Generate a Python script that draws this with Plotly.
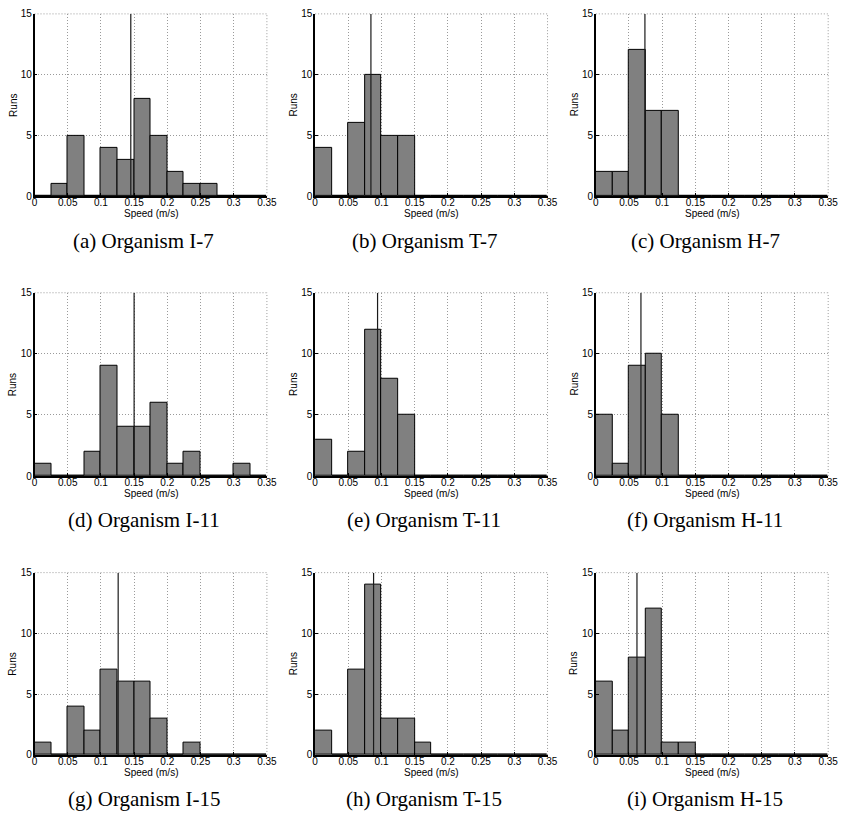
import plotly.graph_objects as go

# Histogram bins (m/s): 14 bins of width 0.025 from 0 to 0.35
bin_width = 0.025
bin_lefts = [0.0, 0.025, 0.05, 0.075, 0.1, 0.125, 0.15, 0.175,
             0.2, 0.225, 0.25, 0.275, 0.3, 0.325]

# Run counts per speed bin for each organism
counts_I7 = [0, 1, 5, 0, 4, 3, 8, 5, 2, 1, 1, 0, 0, 0]
counts_T7 = [4, 0, 6, 10, 5, 5, 0, 0, 0, 0, 0, 0, 0, 0]
counts_H7 = [2, 2, 12, 7, 7, 0, 0, 0, 0, 0, 0, 0, 0, 0]
counts_I11 = [1, 0, 0, 2, 9, 4, 4, 6, 1, 2, 0, 0, 1, 0]
counts_T11 = [3, 0, 2, 12, 8, 5, 0, 0, 0, 0, 0, 0, 0, 0]
counts_H11 = [5, 1, 9, 10, 5, 0, 0, 0, 0, 0, 0, 0, 0, 0]
counts_I15 = [1, 0, 4, 2, 7, 6, 6, 3, 0, 1, 0, 0, 0, 0]
counts_T15 = [2, 0, 7, 14, 3, 3, 1, 0, 0, 0, 0, 0, 0, 0]
counts_H15 = [6, 2, 8, 12, 1, 1, 0, 0, 0, 0, 0, 0, 0, 0]

# Mean speed per organism (vertical marker)
mean_I7, mean_T7, mean_H7 = 0.145, 0.084, 0.074
mean_I11, mean_T11, mean_H11 = 0.150, 0.094, 0.068
mean_I15, mean_T15, mean_H15 = 0.126, 0.088, 0.062

captions = ["(a) Organism I-7", "(b) Organism T-7", "(c) Organism H-7",
            "(d) Organism I-11", "(e) Organism T-11", "(f) Organism H-11",
            "(g) Organism I-15", "(h) Organism T-15", "(i) Organism H-15"]

x_tickvals = [0, 0.05, 0.1, 0.15, 0.2, 0.25, 0.3, 0.35]
x_ticktext = ["0", "0.05", "0.1", "0.15", "0.2", "0.25", "0.3", "0.35"]
y_tickvals = [0, 5, 10, 15]

panels = [
    (counts_I7, mean_I7), (counts_T7, mean_T7), (counts_H7, mean_H7),
    (counts_I11, mean_I11), (counts_T11, mean_T11), (counts_H11, mean_H11),
    (counts_I15, mean_I15), (counts_T15, mean_T15), (counts_H15, mean_H15),
]

W, H = 850, 824
col_px = [(32, 268), (317, 553), (602, 838)]
row_px = [(8, 193), (291, 477), (575, 760)]

bin_centers = [b + bin_width / 2 for b in bin_lefts]

sans = "Liberation Sans, Arial, sans-serif"
serif = "Liberation Serif, Times New Roman, serif"
grid_color = "#9a9a9a"
grid_dash = "1px,2px"
grid_style = dict(showgrid=True, gridcolor=grid_color, griddash=grid_dash, gridwidth=1)

fig = go.Figure()
annotations = []
shapes = []
layout_axes = {}

for i, (counts, mean_val) in enumerate(panels):
    r, c = divmod(i, 3)
    n = i + 1
    xname = "x" if n == 1 else f"x{n}"
    yname = "y" if n == 1 else f"y{n}"
    xkey = "xaxis" if n == 1 else f"xaxis{n}"
    ykey = "yaxis" if n == 1 else f"yaxis{n}"
    x0, x1 = col_px[c]
    top, bottom = row_px[r]

    fig.add_trace(go.Bar(
        x=bin_centers, y=counts, width=bin_width,
        marker=dict(color="#808080", line=dict(color="black", width=1)),
        xaxis=xname, yaxis=yname, showlegend=False,
    ))
    fig.add_trace(go.Scatter(
        x=[mean_val, mean_val], y=[0, 15], mode="lines",
        line=dict(color="#1a1a1a", width=1.2),
        xaxis=xname, yaxis=yname, showlegend=False,
    ))

    layout_axes[xkey] = dict(
        domain=[x0 / W, x1 / W], anchor=yname, range=[0, 0.35],
        tickvals=x_tickvals, ticktext=x_ticktext, **grid_style,
        showline=True, linecolor="black", linewidth=1.5,
        ticks="inside", ticklen=3, tickcolor="black", ticklabelstandoff=-4,
        tickfont=dict(family=sans, size=10, color="black"),
        zeroline=False, fixedrange=True,
    )
    layout_axes[ykey] = dict(
        domain=[1 - bottom / H, 1 - top / H], anchor=xname, range=[0, 15],
        tickvals=y_tickvals, **grid_style,
        showline=True, linecolor="black", linewidth=1.5,
        ticks="inside", ticklen=3, tickcolor="black", ticklabelstandoff=-1,
        tickfont=dict(family=sans, size=10, color="black"),
        zeroline=False, fixedrange=True,
    )

    # dotted grid lines along the top and right edges of each panel
    edge_line = dict(color=grid_color, width=1, dash=grid_dash)
    shapes.append(dict(type="line", xref=f"{xname} domain", yref=f"{yname} domain",
                       x0=0, x1=1, y0=1, y1=1, line=edge_line, layer="below"))
    shapes.append(dict(type="line", xref=f"{xname} domain", yref=f"{yname} domain",
                       x0=1, x1=1, y0=0, y1=1, line=edge_line, layer="below"))

    cx = (x0 + x1) / 2
    annotations.append(dict(
        text="Speed (m/s)", x=cx / W, y=1 - (bottom + 18) / H,
        xref="paper", yref="paper", showarrow=False,
        font=dict(family=sans, size=10, color="black"),
        xanchor="center", yanchor="middle",
    ))
    annotations.append(dict(
        text="Runs", x=(x0 - 22) / W, y=1 - ((top + bottom) / 2) / H,
        xref="paper", yref="paper", showarrow=False, textangle=-90,
        font=dict(family=sans, size=10, color="black"),
        xanchor="center", yanchor="middle",
    ))
    annotations.append(dict(
        text=captions[i], x=(cx - 7) / W, y=1 - (bottom + 45) / H,
        xref="paper", yref="paper", showarrow=False,
        font=dict(family=serif, size=21, color="black"),
        xanchor="center", yanchor="middle",
    ))

fig.update_layout(
    width=W, height=H, margin=dict(l=0, r=0, t=0, b=0),
    paper_bgcolor="white", plot_bgcolor="white",
    bargap=0, annotations=annotations, shapes=shapes, **layout_axes,
)

fig.write_html("out.html")
